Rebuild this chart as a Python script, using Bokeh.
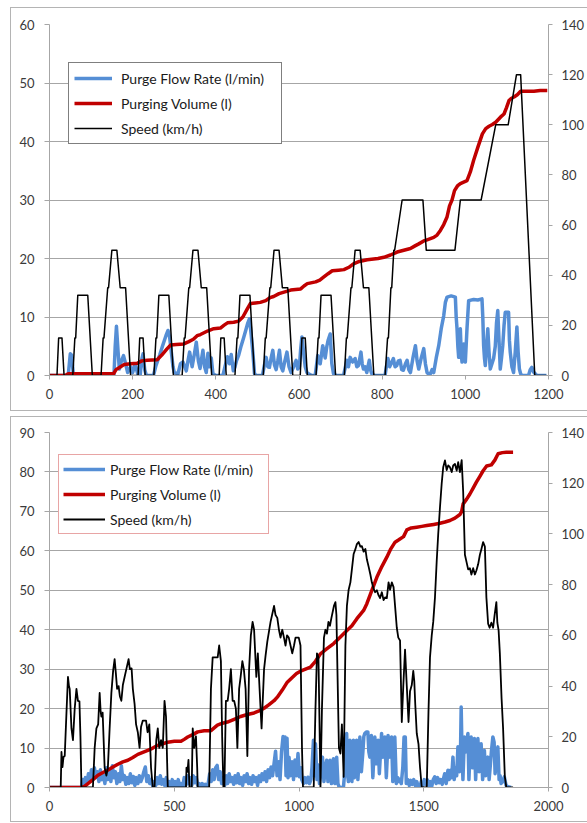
from bokeh.plotting import figure
from bokeh.models import Range1d, LinearAxis, FixedTicker, Legend, LegendItem, ColumnDataSource
from bokeh.layouts import column
from bokeh.embed import file_html
from bokeh.resources import INLINE

# ---------------- Chart 1 data (NEDC) ----------------
speed1_t = [0, 18, 22, 30, 35, 56, 61, 63, 68, 92, 103, 124, 129, 131, 140, 142, 150, 162, 170, 183, 195,
            213, 217, 225, 230, 251, 256, 258, 263, 287, 298, 319, 324, 326, 335, 337, 345, 357, 365, 378, 390,
            408, 412, 420, 425, 446, 451, 453, 458, 482, 493, 514, 519, 521, 530, 532, 540, 552, 560, 573, 585,
            603, 607, 615, 620, 641, 646, 648, 653, 677, 688, 709, 714, 716, 725, 727, 735, 747, 755, 768, 780,
            807, 813, 815, 821, 823, 828, 830, 848, 898, 906, 975, 988, 1038, 1073, 1103, 1123, 1133, 1167, 1195]
speed1_v = [0, 0, 15, 15, 0, 0, 15, 15, 32, 32, 0, 0, 15, 15, 35, 35, 50, 50, 35, 35, 0,
            0, 15, 15, 0, 0, 15, 15, 32, 32, 0, 0, 15, 15, 35, 35, 50, 50, 35, 35, 0,
            0, 15, 15, 0, 0, 15, 15, 32, 32, 0, 0, 15, 15, 35, 35, 50, 50, 35, 35, 0,
            0, 15, 15, 0, 0, 15, 15, 32, 32, 0, 0, 15, 15, 35, 35, 50, 50, 35, 35, 0,
            0, 15, 15, 35, 35, 50, 50, 70, 70, 50, 50, 70, 70, 100, 100, 120, 120, 0, 0]

vol1_t = [0, 38, 45, 154, 160, 171, 180, 195, 211, 222, 235, 259, 270, 282, 291, 305, 323, 335, 346, 355,
          363, 380, 395, 411, 420, 428, 443, 455, 465, 475, 483, 495, 507, 520, 530, 539, 552, 566, 580, 604,
          612, 620, 640, 650, 659, 670, 680, 695, 708, 720, 731, 745, 764, 790, 804, 820, 836, 852, 868, 880,
          888, 900, 908, 924, 932, 940, 948, 956, 962, 968, 974, 981, 988, 1004, 1012, 1020, 1030, 1041, 1049,
          1057, 1065, 1073, 1085, 1093, 1099, 1105, 1111, 1117, 1125, 1133, 1150, 1165, 1180, 1197]
vol1_v = [0, 0, 0.3, 0.3, 1.0, 1.5, 1.9, 2.0, 2.1, 2.5, 2.6, 2.7, 3.5, 4.5, 5.2, 5.3, 5.4, 5.8, 6.2, 6.8,
          7.0, 7.6, 8.0, 8.1, 8.6, 9.0, 9.1, 9.3, 10.0, 11.3, 12.3, 12.4, 12.5, 12.8, 13.3, 13.5, 14.0, 14.3, 14.6, 14.8,
          15.3, 15.7, 16.0, 16.3, 16.8, 17.4, 17.9, 18.0, 18.1, 18.5, 19.1, 19.5, 19.8, 20.0, 20.2, 20.6, 21.1, 21.4, 21.7, 22.2,
          22.5, 23.0, 23.2, 23.6, 24.0, 24.8, 25.8, 27.1, 29.0, 30.0, 31.6, 32.4, 32.8, 33.3, 34.8, 36.8, 39.0, 41.3, 42.2,
          42.6, 42.9, 43.3, 44.2, 44.7, 45.8, 47.0, 47.4, 47.6, 48.0, 48.6, 48.6, 48.6, 48.7, 48.7]

flow1_t = [0, 45, 50, 53, 57, 62, 155, 158, 161, 165, 168, 173, 178, 183, 188, 195, 200, 206, 212, 218,
           221, 225, 229, 233, 250, 256, 265, 272, 280, 285, 289, 293, 297, 300, 309, 315, 321, 329, 333, 337,
           343, 348, 353, 358, 362, 366, 369, 373, 377, 381, 385, 389, 393, 400, 417, 422, 428, 433, 437, 442,
           446, 450, 455, 461, 467, 473, 477, 481, 485, 489, 493, 497, 512, 516, 521, 525, 529, 533, 537, 541,
           545, 549, 553, 557, 561, 566, 571, 576, 581, 587, 593, 597, 601, 604, 607, 611, 615, 619, 623, 631,
           639, 645, 651, 657, 663, 667, 670, 675, 679, 683, 690, 707, 715, 719, 723, 729, 735, 739, 743, 749,
           752, 755, 759, 763, 769, 772, 775, 782, 807, 810, 814, 818, 822, 827, 831, 835, 839, 843, 847, 851,
           856, 860, 864, 868, 874, 880, 884, 888, 894, 900, 904, 908, 912, 916, 920, 924, 930, 936, 942, 948,
           952, 956, 966, 976, 978, 980, 982, 984, 986, 988, 990, 992, 994, 996, 998, 1000, 1004, 1008, 1020, 1030,
           1040, 1042, 1044, 1046, 1048, 1051, 1054, 1057, 1060, 1064, 1068, 1072, 1075, 1078, 1081, 1084, 1087, 1090, 1093, 1096,
           1104, 1106, 1108, 1112, 1116, 1120, 1124, 1127, 1130, 1133, 1136, 1152, 1156, 1160, 1164, 1168, 1172, 1195]
flow1_v = [0, 0, 3.7, 3.5, 0.5, 0, 0, 5, 8.4, 4, 1.1, 2.5, 3.4, 2, 0.5, 1.5, 0.5, 2, 0.3, 0,
           2.5, 3.7, 1, 0, 0, 1.7, 3.5, 5.1, 6.8, 7.7, 6.5, 4, 1.5, 0.5, 0.3, 2, 2.3, 0.8, 2.5, 4,
           1.5, 3.5, 5.7, 2.5, 1.2, 3, 4.3, 1.5, 0.5, 3.8, 1.5, 3, 0.3, 0, 0, 1.5, 3.2, 2, 3.6, 0.8,
           1.5, 2.6, 3.5, 5.1, 6.5, 8, 9, 9.7, 7, 4, 0.3, 0, 0, 1.5, 3.1, 1.5, 1.4, 3, 4.3, 1.8,
           1, 2.5, 4.3, 1.5, 0.8, 2.5, 4, 1.5, 0.5, 1.5, 2.6, 1.1, 1.5, 4.5, 6.6, 4, 1.5, 0.5, 0.3, 0,
           0, 3.4, 2, 5.1, 3, 5, 6, 7.1, 2, 0.3, 0, 0, 2.6, 1.5, 3.1, 2.3, 2.9, 1.5, 1.7, 4,
           2, 1.1, 1.5, 0.5, 2.6, 1, 0.3, 0, 0, 1.5, 2.9, 1.5, 2.1, 2.9, 1.5, 1.7, 2.5, 2.6, 1, 0.9,
           2, 2.6, 1, 0.5, 3, 5.1, 2.5, 1.1, 3, 4.6, 2, 0.5, 0.2, 0.3, 1, 0.5, 3, 5.1, 8, 10.2,
           12.5, 13.4, 13.6, 13.4, 10, 8, 5, 3.1, 6, 8, 4, 2.3, 4, 5.4, 3, 2.3, 8, 12.8, 13, 12.9,
           13.1, 10, 5.1, 3, 1.7, 5, 8, 4, 1.1, 2, 2.9, 5, 9, 11.1, 6, 1.1, 3, 5.1, 8.5, 10.8,
           10.8, 6, 4, 1.5, 0.5, 4, 8.3, 4, 1.1, 0.3, 0, 0, 1, 1.4, 0.6, 0.3, 0, 0]

# ---------------- Chart 2 data (real-world drive) ----------------
speed2_t = [0, 45, 48, 52, 56, 61, 68, 74, 78, 81, 88, 94, 101, 108, 114, 120, 124, 128, 174, 181,
            188, 195, 201, 205, 208, 213, 221, 228, 234, 241, 248, 255, 261, 266, 271, 277, 282, 288, 294, 301,
            308, 317, 322, 329, 334, 341, 347, 354, 361, 367, 374, 387, 393, 400, 407, 414, 421, 428, 434, 440,
            447, 454, 461, 467, 474, 547, 549, 553, 557, 561, 570, 574, 580, 587, 592, 594, 640, 647, 654, 660,
            667, 674, 680, 687, 692, 697, 701, 707, 714, 720, 727, 734, 740, 747, 753, 760, 766, 773, 779, 786,
            793, 800, 807, 814, 820, 829, 835, 842, 850, 860, 866, 873, 886, 900, 906, 913, 920, 926, 933, 940,
            946, 952, 959, 966, 973, 980, 986, 999, 1006, 1012, 1016, 1059, 1066, 1072, 1078, 1083, 1086, 1092, 1100, 1106,
            1112, 1118, 1124, 1130, 1140, 1146, 1150, 1154, 1160, 1166, 1172, 1179, 1186, 1192, 1199, 1206, 1212, 1219, 1226, 1232,
            1239, 1246, 1252, 1259, 1266, 1272, 1279, 1286, 1292, 1299, 1305, 1312, 1318, 1325, 1332, 1339, 1345, 1352, 1359, 1365,
            1372, 1379, 1385, 1392, 1398, 1405, 1412, 1418, 1425, 1432, 1439, 1445, 1452, 1458, 1462, 1466, 1472, 1479, 1485, 1492,
            1512, 1519, 1525, 1532, 1538, 1545, 1552, 1558, 1565, 1572, 1578, 1585, 1592, 1598, 1605, 1612, 1618, 1625, 1632, 1638,
            1645, 1652, 1658, 1665, 1672, 1678, 1685, 1691, 1698, 1705, 1711, 1718, 1725, 1731, 1738, 1745, 1751, 1758, 1764, 1771,
            1778, 1784, 1791, 1795, 1800, 1805, 1812, 1818, 1825, 1831, 1858]
speed2_v = [0, 0, 14, 8, 12, 12.4, 29.5, 43.6, 40, 38.9, 23.3, 18.7, 31.1, 38.9, 34.2, 34, 20, 0, 0, 15.6,
            23.3, 24.9, 37.3, 30, 28, 29.5, 7.8, 4.7, 7.8, 23.3, 37.3, 46, 50.6, 45, 38.9, 40, 36, 34.2, 40.4, 43.6,
            46.7, 50.6, 46.7, 47, 38.9, 33, 24.9, 21.8, 15.6, 24, 26.4, 26.4, 21.8, 24.9, 7.8, 0, 0, 18.7, 23.3, 15.6,
            18.7, 15.6, 34.2, 28, 0, 0, 7.8, 6.2, 10.9, 0, 0, 23.3, 15.6, 20.2, 7.8, 0, 0, 38.9, 51.3, 51.3,
            51.3, 51.3, 56, 49.8, 20, 0, 0, 34.2, 34.2, 38.9, 46.7, 34.2, 34.2, 31.1, 15.6, 38.9, 43.6, 49.8, 46.7, 38.9,
            12.4, 46.7, 60, 65.3, 62.2, 43.6, 52.9, 38.9, 23.3, 46.7, 52, 57.5, 65.3, 71.6, 68, 66.9, 62, 59.1, 62.2, 59,
            56, 60, 59.1, 56, 52.9, 56, 59.1, 59.1, 56, 15.6, 0, 0, 31.1, 52.9, 51.3, 20, 0, 31.1, 59.1, 62.2,
            60.7, 65.3, 63.8, 66.9, 71.6, 73.1, 68, 46.7, 15.6, 13.4, 24.9, 4.2, 56, 71.6, 78, 80.9, 86, 92.1, 94, 96,
            96.8, 95, 95.2, 93, 94.1, 90, 87.1, 84, 80.9, 78.4, 77, 77.8, 76, 74.7, 77, 73.9, 75, 74.7, 80.9, 78,
            80.9, 79, 71.6, 63, 59.1, 58, 25.8, 40, 54.4, 40, 25.8, 38, 40.4, 46, 42, 32.7, 21.3, 17.1, 8, 0,
            0, 30, 51.3, 60, 65.3, 75, 89.4, 100, 110.4, 120, 126.3, 129, 125.2, 127, 126.3, 124.4, 127, 127.6, 125, 128.3,
            124.4, 129.1, 116.7, 91.8, 88.7, 86, 86.5, 84, 86.5, 84, 85.6, 88, 91.8, 94, 96.8, 95, 75.1, 64.6, 63, 65,
            63, 68, 73.1, 65, 62, 52.9, 35, 23.3, 4.2, 0, 0]

vol2_t = [0, 128, 140, 154, 174, 194, 214, 234, 254, 274, 294, 314, 334, 354, 374, 394, 414, 434, 454, 474,
          500, 527, 540, 554, 574, 594, 620, 647, 660, 673, 693, 713, 740, 766, 793, 820, 840, 860, 880, 900,
          913, 933, 953, 973, 990, 1006, 1026, 1046, 1066, 1086, 1112, 1139, 1165, 1192, 1212, 1232, 1259, 1272, 1292, 1312,
          1332, 1352, 1368, 1385, 1400, 1419, 1432, 1450, 1472, 1492, 1512, 1540, 1565, 1585, 1605, 1625, 1645, 1652, 1658, 1672,
          1685, 1698, 1711, 1725, 1738, 1752, 1771, 1785, 1798, 1815, 1831, 1858]
vol2_v = [0, 0, 0.3, 1.0, 2.0, 3.1, 3.8, 4.4, 5.2, 5.9, 6.5, 6.9, 7.6, 8.4, 8.9, 9.4, 10.0, 10.7, 11.1, 11.5,
          11.7, 11.7, 12.2, 12.8, 13.4, 14.1, 14.4, 14.4, 15.1, 15.8, 16.3, 16.6, 17.3, 18.0, 18.5, 18.9, 19.4, 20.1, 21.0, 22.0,
          22.9, 24.7, 26.7, 27.9, 28.9, 29.5, 30.0, 30.5, 32.0, 33.9, 35.2, 36.5, 38.1, 39.8, 41.0, 42.8, 44.9, 46.6, 50.0, 53.3,
          56.0, 58.4, 60.5, 62.2, 62.8, 63.6, 65.3, 65.8, 66.0, 66.2, 66.4, 66.7, 67.0, 67.3, 67.7, 68.3, 69.2, 70.0, 71.9, 73.1,
          74.4, 75.9, 77.4, 78.9, 80.3, 81.5, 81.8, 83.0, 84.6, 84.9, 85.0, 85.0]

flow2_t = [0, 128, 132, 138, 144, 150, 156, 162, 168, 174, 180, 186, 192, 198, 204, 210, 216, 222, 228, 234,
           240, 246, 252, 258, 264, 270, 276, 282, 288, 294, 300, 306, 312, 318, 324, 330, 336, 342, 348, 354,
           360, 366, 372, 378, 384, 390, 396, 402, 408, 414, 420, 426, 432, 438, 444, 450, 456, 462, 468, 474,
           480, 486, 492, 498, 504, 510, 516, 522, 528, 534, 540, 546, 552, 558, 564, 570, 576, 582, 588, 594,
           600, 606, 612, 618, 624, 630, 636, 642, 648, 654, 660, 666, 672, 678, 684, 690, 696, 702, 708, 714,
           720, 726, 732, 738, 744, 750, 756, 762, 768, 774, 780, 786, 792, 798, 804, 810, 816, 822, 828, 834,
           840, 846, 852, 858, 864, 870, 876, 882, 888, 894, 900, 906, 912, 918, 924, 930, 936, 940, 944, 948,
           952, 956, 960, 966, 972, 978, 984, 990, 996, 1002, 1008, 1011, 1018, 1024, 1030, 1036, 1042, 1048, 1052, 1058,
           1062, 1066, 1072, 1078, 1082, 1088, 1094, 1100, 1106, 1111, 1116, 1120, 1124, 1130, 1134, 1138, 1144, 1148, 1151, 1156,
           1160, 1166, 1178, 1184, 1191, 1195, 1198, 1204, 1208, 1212, 1218, 1222, 1226, 1231, 1236, 1240, 1244, 1250, 1256, 1260,
           1264, 1270, 1276, 1280, 1284, 1290, 1296, 1300, 1304, 1310, 1314, 1317, 1322, 1326, 1331, 1336, 1340, 1344, 1350, 1354,
           1357, 1362, 1366, 1371, 1376, 1380, 1384, 1390, 1396, 1400, 1404, 1410, 1416, 1421, 1426, 1430, 1436, 1442, 1448, 1454,
           1460, 1466, 1472, 1478, 1484, 1490, 1496, 1502, 1508, 1514, 1520, 1526, 1532, 1538, 1544, 1550, 1556, 1562, 1568, 1574,
           1580, 1584, 1590, 1597, 1602, 1607, 1612, 1617, 1622, 1627, 1632, 1637, 1643, 1647, 1650, 1653, 1657, 1663, 1668, 1672,
           1677, 1681, 1685, 1690, 1695, 1699, 1703, 1708, 1712, 1717, 1722, 1726, 1730, 1736, 1740, 1743, 1748, 1752, 1757, 1762,
           1766, 1771, 1777, 1782, 1786, 1790, 1797, 1802, 1806, 1810, 1816, 1823, 1830, 1838, 1850]
flow2_v = [0, 0, 2.0, 1.0, 2.5, 1.2, 3.5, 1.5, 4.5, 2.0, 5.0, 2.5, 4.0, 1.5, 4.5, 2.0, 3.5, 1.0, 5.0, 2.0,
           4.5, 1.5, 5.5, 2.5, 4.0, 1.0, 3.5, 1.5, 5.5, 2.0, 3.0, 0.8, 2.5, 1.0, 3.5, 1.2, 2.8, 0.5, 2.5, 1.0,
           3.0, 1.5, 2.5, 4.0, 5.2, 1.5, 3.0, 1.0, 2.0, 0.3, 1.5, 0.5, 2.5, 1.0, 3.0, 0.8, 2.0, 0.5, 2.5, 0.3,
           1.5, 0.2, 2.0, 0.5, 1.5, 0.2, 2.0, 0.3, 1.0, 0.2, 2.5, 0.5, 3.0, 1.0, 2.5, 0.5, 3.0, 1.2, 2.5, 0.5,
           1.0, 0.2, 1.0, 0.2, 0.8, 0.2, 1.0, 3.5, 1.5, 4.5, 2.0, 5.0, 5.6, 2.0, 4.0, 1.0, 2.5, 0.5, 3.0, 1.0,
           3.5, 1.5, 2.5, 0.8, 3.0, 1.2, 3.5, 1.0, 2.5, 0.5, 3.0, 1.5, 3.5, 1.0, 2.5, 0.8, 3.0, 1.5, 2.5, 0.5,
           3.0, 1.5, 3.5, 2.0, 4.0, 1.5, 4.5, 2.5, 5.2, 3.0, 6.0, 9.2, 3.0, 6.5, 2.0, 9.0, 12.9, 11.0, 12.8, 3.0,
           12.5, 2.5, 7.7, 3.0, 6.5, 2.0, 7.0, 3.0, 8.6, 2.7, 5.0, 2.0, 1.0, 2.5, 1.2, 2.6, 1.0, 2.0, 5.0, 12.0,
           3.0, 11.1, 2.0, 5.7, 1.0, 4.0, 7.7, 1.5, 5.0, 6.9, 1.5, 4.0, 6.9, 1.0, 5.0, 7.3, 1.0, 4.0, 7.7, 1.0,
           0.3, 0, 0, 4.4, 13.7, 3.0, 1.5, 12.0, 3.0, 1.5, 12.0, 2.5, 6.0, 12.0, 2.0, 6.0, 12.8, 4.0, 9.0, 13.0,
           13.7, 14.1, 14.1, 9.0, 7.7, 13.2, 2.5, 8.0, 12.8, 6.0, 9.0, 12.0, 3.5, 8.0, 13.7, 7.7, 10.0, 12.8, 2.5, 8.0,
           13.2, 7.7, 10.0, 12.8, 1.5, 6.0, 12.8, 1.0, 2.5, 1.5, 2.0, 1.0, 5.0, 12.8, 12.8, 1.0, 2.0, 0.5, 1.8, 0.8,
           2.0, 0.5, 1.5, 0.2, 0, 1.5, 0.5, 2.0, 0.8, 2.0, 0.5, 1.5, 0.3, 2.0, 2.7, 1.0, 2.5, 1.2, 2.0, 0.8,
           2.5, 3.5, 1.0, 4.4, 2.0, 4.4, 2.5, 7.7, 2.0, 5.0, 3.0, 10.3, 4.0, 8.0, 20.4, 10.3, 2.0, 12.8, 9.0, 11.0,
           13.7, 2.0, 8.0, 12.8, 5.0, 9.0, 12.4, 2.0, 8.0, 12.4, 4.0, 7.0, 11.1, 2.0, 6.0, 9.4, 3.0, 5.0, 7.7, 2.0,
           5.0, 9.0, 12.8, 11.5, 3.5, 6.0, 10.3, 2.0, 3.0, 1.0, 1.5, 2.7, 0.5, 0.2, 0]

labels = ["Purge Flow Rate (l/min)", "Purging Volume (l)", "Speed (km/h)"]
x1_ticks = [0, 200, 400, 600, 800, 1000, 1200]
y1_ticks = [0, 10, 20, 30, 40, 50, 60]
x2_ticks = [0, 500, 1000, 1500, 2000]
y2_ticks = [0, 10, 20, 30, 40, 50, 60, 70, 80, 90]
speed_ticks = [0, 20, 40, 60, 80, 100, 120, 140]

BLUE = "#558ed5"
RED = "#c00000"
GRID = "#a6a6a6"
PANEL = "#b4b4b4"
TXT = "#3a3a3a"
FONT = "Lato"


def style_axis(ax, ticks, standoff, tick_out=4):
    ax.ticker = FixedTicker(ticks=ticks)
    ax.axis_line_color = GRID
    ax.major_tick_line_color = GRID
    ax.minor_tick_line_color = None
    ax.major_tick_out = tick_out
    ax.major_tick_in = 0
    ax.major_label_text_font = FONT
    ax.major_label_text_font_size = "13px"
    ax.major_label_text_color = TXT
    ax.major_label_standoff = standoff


def panel_css(width, height, left, top, bottom):
    g = "linear-gradient(%s,%s)" % (PANEL, PANEL)
    return {
        "background": "%s %dpx %dpx / 1px %dpx no-repeat, %s %dpx %dpx / %dpx 1px no-repeat, "
                      "%s %dpx %dpx / %dpx 1px no-repeat, white"
                      % (g, left, top, bottom - top + 1, g, left, top, width - left, g, left, bottom, width - left)
    }


def make_chart(width, height, borders, xmax, ymax, xt, yt, flow, vol, speed, lw_speed, legend_cfg, panel):
    p = figure(width=width, height=height, output_backend="svg", toolbar_location=None,
               x_range=Range1d(0, xmax), y_range=Range1d(0, ymax),
               min_border_left=borders[0], min_border_right=borders[1],
               min_border_top=borders[2], min_border_bottom=borders[3])
    p.extra_y_ranges = {"speed": Range1d(0, 140)}
    p.outline_line_color = None
    p.background_fill_color = "white"
    p.border_fill_alpha = 0
    p.xgrid.visible = False
    p.ygrid.grid_line_color = GRID
    p.ygrid.grid_line_width = 1
    p.ygrid.ticker = FixedTicker(ticks=yt)
    style_axis(p.xaxis[0], xt, 9)
    style_axis(p.yaxis[0], yt, 10, 5)
    ax_r = LinearAxis(y_range_name="speed")
    style_axis(ax_r, speed_ticks, 9)
    p.add_layout(ax_r, "right")

    r1 = p.line(x="t", y="v", source=ColumnDataSource(dict(t=flow[0], v=flow[1])),
                line_color=BLUE, line_width=3.5, line_join="round")
    r2 = p.line(x="t", y="v", source=ColumnDataSource(dict(t=vol[0], v=vol[1])),
                line_color=RED, line_width=3.5, line_join="round")
    r3 = p.line(x="t", y="v", source=ColumnDataSource(dict(t=speed[0], v=speed[1])),
                line_color="black", line_width=lw_speed, line_join="round", y_range_name="speed")

    items = [LegendItem(label=labels[0], renderers=[r1]),
             LegendItem(label=labels[1], renderers=[r2]),
             LegendItem(label=labels[2], renderers=[r3])]
    lg = Legend(items=items, location=legend_cfg["loc"], margin=0,
                padding=legend_cfg["pad"], spacing=legend_cfg["sp"],
                glyph_height=20, label_height=20, glyph_width=legend_cfg["gw"],
                label_standoff=legend_cfg["so"], label_width=legend_cfg["lw"],
                border_line_color=legend_cfg["bc"], border_line_width=1,
                background_fill_color="white", background_fill_alpha=1.0,
                label_text_font=FONT, label_text_font_size="14px", label_text_color="#1a1a1a")
    p.add_layout(lg)
    p.styles = panel_css(width, height, *panel)
    return p


p1 = make_chart(587, 411, (49, 39, 24, 36), 1200, 60, x1_ticks, y1_ticks,
                (flow1_t, flow1_v), (vol1_t, vol1_v), (speed1_t, speed1_v), 1.5,
                dict(loc=(19, 231), pad=5, sp=5, gw=38, so=9, lw=155, bc="black"),
                (10, 7, 410))
p2 = make_chart(587, 412, (48, 38, 21, 36), 2000, 90, x2_ticks, y2_ticks,
                (flow2_t, flow2_v), (vol2_t, vol2_v), (speed2_t, speed2_v), 1.8,
                dict(loc=(9, 253), pad=4, sp=5, gw=42, so=5, lw=154, bc="#d24b4b"),
                (10, 5, 410))

layout = column(p1, p2, spacing=0)
open("out.html", "w").write(file_html(layout, INLINE))
